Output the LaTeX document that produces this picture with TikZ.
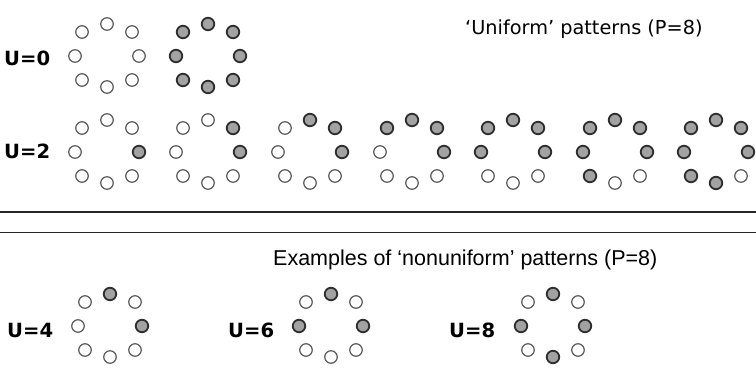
\documentclass[tikz,border=0pt]{standalone}
\usepackage{fontspec}
\usepackage{tikz}
\usetikzlibrary{positioning}
\newfontfamily\labfont{DejaVu Sans}
\newfontfamily\capfont{Liberation Sans}
\definecolor{ringgray}{HTML}{A2A2A2}
\definecolor{ringedge}{HTML}{2E2E2E}
\definecolor{ringoff}{HTML}{5A5A5A}

% one ring of P=8 points; #1 name, #2 centre, #3 flags T,TR,R,BR,B,BL,L,TL
\newcommand{\ringpat}[3]{%
  \begin{scope}[shift={#2}]
    \foreach \dx/\dy [count=\i from 0] in {0/-32,25/-24,32/0,25/24,0/31,-25/24,-32/0,-25/-24}{
      \pgfmathtruncatemacro\isset{{#3}[\i]}
      \ifnum\isset=1
        \node[onpt] (#1-\i) at (\dx,\dy) {};
      \else
        \node[offpt] (#1-\i) at (\dx,\dy) {};
      \fi
    }
  \end{scope}}

\begin{document}
\begin{tikzpicture}[x=1pt, y=-1pt,
   offpt/.style={circle, draw=ringoff, fill=white, line width=1.2pt,
                 minimum size=12.5pt, inner sep=0pt},
   onpt/.style={circle, draw=ringedge, fill=ringgray, line width=1.8pt,
                minimum size=12.5pt, inner sep=0pt},
   ulab/.style={anchor=base west, inner sep=0pt,
                font=\labfont\bfseries\fontsize{19.6}{22}\selectfont},
   head/.style={anchor=base west, inner sep=0pt}]
  \useasboundingbox (0,0) rectangle (756,384);

  % uniform patterns
  \node[head, font=\labfont\fontsize{19.3}{22}\selectfont] (uhead) at (465,34) {‘Uniform’ patterns (P=8)};
  \node[ulab] (u0) at (4,65) {U=0};
  \ringpat{a}{(107,56)}{0,0,0,0,0,0,0,0}
  \ringpat{b}{(208,56)}{1,1,1,1,1,1,1,1}

  \node[ulab] (u2) at (4,158) {U=2};
  \ringpat{c}{(107,152)}{0,0,1,0,0,0,0,0}
  \ringpat{d}{(208,152)}{0,1,1,0,0,0,0,0}
  \ringpat{e}{(310,152)}{1,1,1,0,0,0,0,0}
  \ringpat{f}{(412,152)}{1,1,1,0,0,0,0,1}
  \ringpat{g}{(513,152)}{1,1,1,0,0,0,1,1}
  \ringpat{h}{(615,152)}{1,1,1,0,0,1,1,1}
  \ringpat{k}{(716,152)}{1,1,1,0,1,1,1,1}

  % separator
  \draw[line width=1.6pt, black!85] (0,212) -- (756,212);
  \draw[line width=1.6pt, black!85] (0,232.5) -- (756,232.5);

  % nonuniform examples
  \node[head, font=\capfont\fontsize{21.5}{24}\selectfont] (nhead) at (273,265) {Examples of ‘nonuniform’ patterns (P=8)};
  \node[ulab] (u4) at (7,337) {U=4};
  \ringpat{m}{(110,326)}{1,0,1,0,0,0,0,0}
  \node[ulab] (u6) at (228,337) {U=6};
  \ringpat{n}{(331,326)}{1,0,1,0,0,0,1,0}
  \node[ulab] (u8) at (449,337) {U=8};
  \ringpat{p}{(553,326)}{1,0,1,0,1,0,1,0}
\end{tikzpicture}
\end{document}
